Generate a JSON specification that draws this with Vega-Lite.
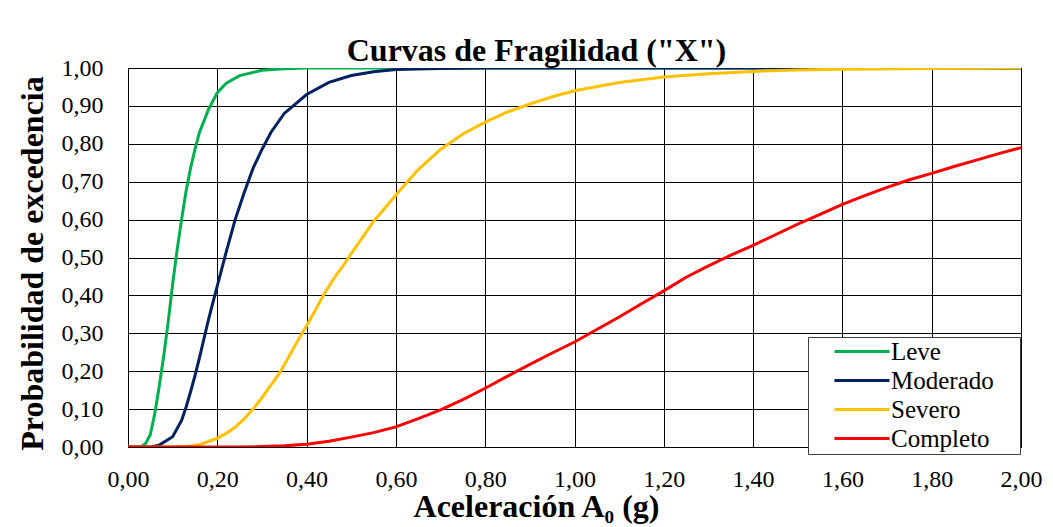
{
  "$schema": "https://vega.github.io/schema/vega-lite/v6.json",
  "width": 893,
  "height": 379,
  "autosize": {"type": "none"},
  "padding": {"left": 128, "top": 68, "right": 32, "bottom": 80},
  "background": "white",
  "title": {
    "text": "Curvas de Fragilidad (\"X\")",
    "font": "Liberation Serif",
    "fontSize": 32,
    "fontWeight": "bold",
    "color": "#000000",
    "anchor": "middle",
    "dx": -38,
    "dy": 44,
    "baseline": "alphabetic",
    "offset": 7
  },
  "config": {
    "view": {"stroke": "#000000", "strokeWidth": 1},
    "axis": {
      "labelFont": "Liberation Serif",
      "labelFontSize": 24,
      "labelColor": "#000000",
      "titleFont": "Liberation Serif",
      "titleFontSize": 32,
      "titleFontWeight": "bold",
      "titleColor": "#000000",
      "grid": true,
      "gridColor": "#000000",
      "gridWidth": 1,
      "gridOpacity": 1,
      "domain": false,
      "ticks": false
    }
  },
  "data": {
    "values": [
      {"a": 0.00, "p": 0.0, "estado": "Leve"},
      {"a": 0.02, "p": 0.0, "estado": "Leve"},
      {"a": 0.03, "p": 0.001, "estado": "Leve"},
      {"a": 0.04, "p": 0.01, "estado": "Leve"},
      {"a": 0.05, "p": 0.033, "estado": "Leve"},
      {"a": 0.06, "p": 0.088, "estado": "Leve"},
      {"a": 0.07, "p": 0.16, "estado": "Leve"},
      {"a": 0.08, "p": 0.24, "estado": "Leve"},
      {"a": 0.09, "p": 0.33, "estado": "Leve"},
      {"a": 0.10, "p": 0.43, "estado": "Leve"},
      {"a": 0.11, "p": 0.52, "estado": "Leve"},
      {"a": 0.12, "p": 0.60, "estado": "Leve"},
      {"a": 0.13, "p": 0.675, "estado": "Leve"},
      {"a": 0.14, "p": 0.735, "estado": "Leve"},
      {"a": 0.15, "p": 0.785, "estado": "Leve"},
      {"a": 0.16, "p": 0.83, "estado": "Leve"},
      {"a": 0.18, "p": 0.89, "estado": "Leve"},
      {"a": 0.20, "p": 0.935, "estado": "Leve"},
      {"a": 0.22, "p": 0.96, "estado": "Leve"},
      {"a": 0.25, "p": 0.98, "estado": "Leve"},
      {"a": 0.30, "p": 0.994, "estado": "Leve"},
      {"a": 0.35, "p": 0.998, "estado": "Leve"},
      {"a": 0.40, "p": 1.0, "estado": "Leve"},
      {"a": 1.00, "p": 1.0, "estado": "Leve"},
      {"a": 2.00, "p": 1.0, "estado": "Leve"},

      {"a": 0.00, "p": 0.0, "estado": "Moderado"},
      {"a": 0.05, "p": 0.0, "estado": "Moderado"},
      {"a": 0.07, "p": 0.005, "estado": "Moderado"},
      {"a": 0.10, "p": 0.027, "estado": "Moderado"},
      {"a": 0.12, "p": 0.07, "estado": "Moderado"},
      {"a": 0.13, "p": 0.105, "estado": "Moderado"},
      {"a": 0.14, "p": 0.145, "estado": "Moderado"},
      {"a": 0.15, "p": 0.188, "estado": "Moderado"},
      {"a": 0.16, "p": 0.235, "estado": "Moderado"},
      {"a": 0.17, "p": 0.285, "estado": "Moderado"},
      {"a": 0.18, "p": 0.335, "estado": "Moderado"},
      {"a": 0.19, "p": 0.38, "estado": "Moderado"},
      {"a": 0.20, "p": 0.425, "estado": "Moderado"},
      {"a": 0.21, "p": 0.47, "estado": "Moderado"},
      {"a": 0.22, "p": 0.515, "estado": "Moderado"},
      {"a": 0.24, "p": 0.60, "estado": "Moderado"},
      {"a": 0.26, "p": 0.67, "estado": "Moderado"},
      {"a": 0.28, "p": 0.735, "estado": "Moderado"},
      {"a": 0.30, "p": 0.785, "estado": "Moderado"},
      {"a": 0.32, "p": 0.83, "estado": "Moderado"},
      {"a": 0.35, "p": 0.88, "estado": "Moderado"},
      {"a": 0.40, "p": 0.93, "estado": "Moderado"},
      {"a": 0.45, "p": 0.962, "estado": "Moderado"},
      {"a": 0.50, "p": 0.98, "estado": "Moderado"},
      {"a": 0.55, "p": 0.99, "estado": "Moderado"},
      {"a": 0.60, "p": 0.996, "estado": "Moderado"},
      {"a": 0.70, "p": 0.999, "estado": "Moderado"},
      {"a": 0.80, "p": 1.0, "estado": "Moderado"},
      {"a": 2.00, "p": 1.0, "estado": "Moderado"},

      {"a": 0.00, "p": 0.0, "estado": "Severo"},
      {"a": 0.10, "p": 0.0, "estado": "Severo"},
      {"a": 0.13, "p": 0.001, "estado": "Severo"},
      {"a": 0.16, "p": 0.006, "estado": "Severo"},
      {"a": 0.20, "p": 0.023, "estado": "Severo"},
      {"a": 0.22, "p": 0.036, "estado": "Severo"},
      {"a": 0.24, "p": 0.052, "estado": "Severo"},
      {"a": 0.26, "p": 0.074, "estado": "Severo"},
      {"a": 0.28, "p": 0.10, "estado": "Severo"},
      {"a": 0.30, "p": 0.13, "estado": "Severo"},
      {"a": 0.32, "p": 0.163, "estado": "Severo"},
      {"a": 0.34, "p": 0.196, "estado": "Severo"},
      {"a": 0.36, "p": 0.238, "estado": "Severo"},
      {"a": 0.38, "p": 0.28, "estado": "Severo"},
      {"a": 0.40, "p": 0.32, "estado": "Severo"},
      {"a": 0.42, "p": 0.362, "estado": "Severo"},
      {"a": 0.44, "p": 0.405, "estado": "Severo"},
      {"a": 0.46, "p": 0.443, "estado": "Severo"},
      {"a": 0.48, "p": 0.475, "estado": "Severo"},
      {"a": 0.50, "p": 0.51, "estado": "Severo"},
      {"a": 0.55, "p": 0.595, "estado": "Severo"},
      {"a": 0.60, "p": 0.665, "estado": "Severo"},
      {"a": 0.65, "p": 0.732, "estado": "Severo"},
      {"a": 0.70, "p": 0.785, "estado": "Severo"},
      {"a": 0.75, "p": 0.826, "estado": "Severo"},
      {"a": 0.80, "p": 0.857, "estado": "Severo"},
      {"a": 0.85, "p": 0.884, "estado": "Severo"},
      {"a": 0.90, "p": 0.905, "estado": "Severo"},
      {"a": 0.95, "p": 0.924, "estado": "Severo"},
      {"a": 1.00, "p": 0.94, "estado": "Severo"},
      {"a": 1.10, "p": 0.962, "estado": "Severo"},
      {"a": 1.20, "p": 0.976, "estado": "Severo"},
      {"a": 1.30, "p": 0.985, "estado": "Severo"},
      {"a": 1.40, "p": 0.991, "estado": "Severo"},
      {"a": 1.50, "p": 0.995, "estado": "Severo"},
      {"a": 1.60, "p": 0.997, "estado": "Severo"},
      {"a": 1.80, "p": 0.999, "estado": "Severo"},
      {"a": 2.00, "p": 1.0, "estado": "Severo"},

      {"a": 0.00, "p": 0.0, "estado": "Completo"},
      {"a": 0.25, "p": 0.0, "estado": "Completo"},
      {"a": 0.30, "p": 0.001, "estado": "Completo"},
      {"a": 0.35, "p": 0.003, "estado": "Completo"},
      {"a": 0.40, "p": 0.007, "estado": "Completo"},
      {"a": 0.45, "p": 0.015, "estado": "Completo"},
      {"a": 0.50, "p": 0.026, "estado": "Completo"},
      {"a": 0.55, "p": 0.038, "estado": "Completo"},
      {"a": 0.60, "p": 0.053, "estado": "Completo"},
      {"a": 0.65, "p": 0.075, "estado": "Completo"},
      {"a": 0.70, "p": 0.098, "estado": "Completo"},
      {"a": 0.75, "p": 0.125, "estado": "Completo"},
      {"a": 0.80, "p": 0.155, "estado": "Completo"},
      {"a": 0.85, "p": 0.187, "estado": "Completo"},
      {"a": 0.90, "p": 0.218, "estado": "Completo"},
      {"a": 0.95, "p": 0.248, "estado": "Completo"},
      {"a": 1.00, "p": 0.277, "estado": "Completo"},
      {"a": 1.05, "p": 0.31, "estado": "Completo"},
      {"a": 1.10, "p": 0.343, "estado": "Completo"},
      {"a": 1.15, "p": 0.378, "estado": "Completo"},
      {"a": 1.20, "p": 0.412, "estado": "Completo"},
      {"a": 1.25, "p": 0.448, "estado": "Completo"},
      {"a": 1.30, "p": 0.478, "estado": "Completo"},
      {"a": 1.35, "p": 0.506, "estado": "Completo"},
      {"a": 1.40, "p": 0.532, "estado": "Completo"},
      {"a": 1.45, "p": 0.56, "estado": "Completo"},
      {"a": 1.50, "p": 0.588, "estado": "Completo"},
      {"a": 1.55, "p": 0.614, "estado": "Completo"},
      {"a": 1.60, "p": 0.64, "estado": "Completo"},
      {"a": 1.65, "p": 0.663, "estado": "Completo"},
      {"a": 1.70, "p": 0.685, "estado": "Completo"},
      {"a": 1.75, "p": 0.705, "estado": "Completo"},
      {"a": 1.80, "p": 0.722, "estado": "Completo"},
      {"a": 1.85, "p": 0.74, "estado": "Completo"},
      {"a": 1.90, "p": 0.757, "estado": "Completo"},
      {"a": 1.95, "p": 0.774, "estado": "Completo"},
      {"a": 2.00, "p": 0.79, "estado": "Completo"}
    ]
  },
  "mark": {"type": "line", "strokeWidth": 3, "clip": true},
  "encoding": {
    "x": {
      "field": "a",
      "type": "quantitative",
      "scale": {"domain": [0, 2], "nice": false, "zero": false},
      "axis": {
        "values": [0, 0.2, 0.4, 0.6, 0.8, 1.0, 1.2, 1.4, 1.6, 1.8, 2.0],
        "labelExpr": "replace(format(datum.value, '.2f'), '.', ',')",
        "labelPadding": 20,
        "labelBaseline": "top",
        "labelFlush": false,
        "labelOverlap": false,
        "title": "Aceleración A₀ (g)",
        "titleX": 408,
        "titleY": 69,
        "titleBaseline": "alphabetic",
        "titleAlign": "center",
        "titleAnchor": null
      }
    },
    "y": {
      "field": "p",
      "type": "quantitative",
      "scale": {"domain": [0, 1], "nice": false},
      "axis": {
        "values": [0, 0.1, 0.2, 0.3, 0.4, 0.5, 0.6, 0.7, 0.8, 0.9, 1.0],
        "labelExpr": "replace(format(datum.value, '.2f'), '.', ',')",
        "labelPadding": 25,
        "labelBaseline": "middle",
        "labelFlush": false,
        "labelOverlap": false,
        "title": "Probabilidad de excedencia",
        "titleAngle": 270,
        "titleX": -86,
        "titleY": 195,
        "titleBaseline": "alphabetic",
        "titleAlign": "center"
      }
    },
    "color": {
      "field": "estado",
      "type": "nominal",
      "sort": ["Leve", "Moderado", "Severo", "Completo"],
      "scale": {
        "domain": ["Leve", "Moderado", "Severo", "Completo"],
        "range": ["#00B050", "#002060", "#FFC000", "#FF0000"]
      },
      "legend": {
        "title": null,
        "orient": "none",
        "legendX": 680,
        "legendY": 269,
        "direction": "vertical",
        "symbolType": "stroke",
        "symbolSize": 3025,
        "symbolStrokeWidth": 3,
        "symbolOffset": 23,
        "labelFont": "Liberation Serif",
        "labelFontSize": 25,
        "labelColor": "#000000",
        "labelOffset": 0,
        "labelExpr": "datum.label + '\u00a0\u2800'",
        "fillColor": "#ffffff",
        "strokeColor": "#404040",
        "padding": 2,
        "clipHeight": 25,
        "rowPadding": 3
      }
    }
  }
}
